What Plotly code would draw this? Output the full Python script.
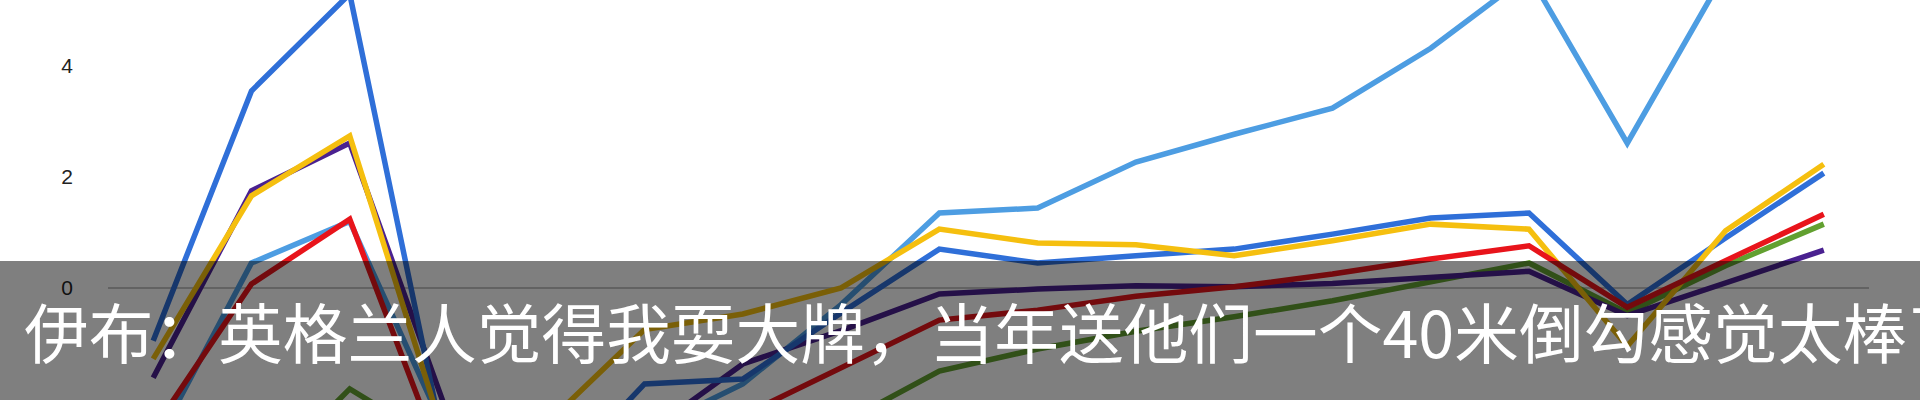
import plotly.graph_objects as go

periods = list(range(1, 19))

light_blue = [-2.9, 0.45, 1.2, -2.7, -3.3, -2.6, -1.73, -0.3, 1.35, 1.44, 2.27, 2.77, 3.24, 4.32, 5.65, 2.61, 5.7, 6.2]
blue = [-0.95, 3.55, 5.3, -3.2, -3.6, -1.73, -1.64, -0.45, 0.70, 0.45, 0.58, 0.70, 0.97, 1.26, 1.35, -0.3, 0.9, 2.07]
yellow = [-1.28, 1.66, 2.74, -2.9, -2.45, -0.75, -0.47, 0.0, 1.06, 0.81, 0.78, 0.58, 0.85, 1.15, 1.06, -1.05, 1.03, 2.23]
red = [-2.56, 0.07, 1.24, -3.4, -3.5, -3.0, -2.3, -1.45, -0.58, -0.4, -0.15, 0.02, 0.25, 0.52, 0.76, -0.35, 0.5, 1.33]
green = [-3.9, -3.6, -1.82, -2.9, -3.5, -3.3, -3.0, -2.45, -1.5, -1.1, -0.78, -0.52, -0.23, 0.12, 0.45, -0.45, 0.4, 1.15]
purple = [-1.62, 1.75, 2.61, -2.3, -2.9, -2.65, -1.37, -0.77, -0.11, -0.02, 0.04, 0.02, 0.08, 0.18, 0.3, -0.5, 0.1, 0.68]

y_ticks = [-2, 0, 2, 4]
caption = "伊布：英格兰人觉得我耍大牌，当年送他们一个40米倒勾感觉太棒了"

series = [
    ("light_blue", light_blue, "#4d9de2"),
    ("green", green, "#62a030"),
    ("purple", purple, "#4a2190"),
    ("blue", blue, "#2f6fd8"),
    ("yellow", yellow, "#f5bf0f"),
    ("red", red, "#e8141b"),
]

fig = go.Figure()
for name, vals, col in series:
    fig.add_trace(go.Scatter(x=periods, y=vals, mode="lines", name=name,
                             line=dict(color=col, width=5.5), showlegend=False))

W, H = 1920, 400
ml, mr = 108, 51
fig.update_layout(
    width=W, height=H,
    margin=dict(l=ml, r=mr, t=0, b=0),
    paper_bgcolor="white", plot_bgcolor="white",
    xaxis=dict(range=[0.54, 18.46], showgrid=False, zeroline=False,
               showticklabels=False, showline=False),
    yaxis=dict(range=[-2.02, 5.19], showgrid=False, zeroline=True,
               zerolinecolor="#c4c4c4", zerolinewidth=2,
               tickvals=y_ticks, ticklabelstandoff=34,
               tickfont=dict(family="Liberation Sans", size=21, color="#222222"),
               showline=False),
)

fig.add_shape(type="rect", xref="paper", yref="paper",
              x0=-ml / (W - ml - mr), x1=1 + mr / (W - ml - mr),
              y0=0, y1=1 - 261 / H,
              fillcolor="rgba(0,0,0,0.5)", line=dict(width=0), layer="above")

fig.add_annotation(text=caption, xref="paper", yref="paper",
                   x=(22 - ml) / (W - ml - mr), y=1 - 330 / H,
                   xanchor="left", yanchor="middle", showarrow=False,
                   font=dict(family="Noto Sans CJK SC", size=64.7, color="white"))

fig.write_html("out.html", config={"displayModeBar": False},
               post_script="document.body.style.margin='0';")
